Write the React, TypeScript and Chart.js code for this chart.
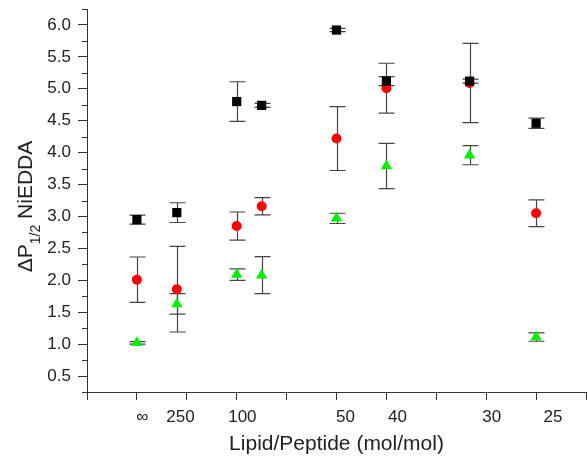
import React, { useEffect, useRef } from 'react';
import { Chart, registerables } from 'chart.js';

Chart.register(...registerables);

// Lipid/peptide ratios (x is plotted as peptide/lipid = 1/ratio)
const ratios = [Infinity, 250, 100, 80, 50, 40, 30, 25];

const blackValues = [2.95, 3.06, 4.80, 4.74, 5.92, 5.12, 5.12, 4.46];
const blackErrors = [0.07, 0.155, 0.31, 0.03, 0.025, 0.07, 0.03, 0.08];

const redValues = [2.01, 1.86, 2.85, 3.16, 4.22, 5.01, 5.09, 3.05];
const redErrors = [0.355, 0.67, 0.22, 0.135, 0.5, 0.39, 0.62, 0.21];

const greenValues = [1.02, 1.63, 2.09, 2.08, 2.97, 3.79, 3.96, 1.11];
const greenErrors = [0.02, 0.16, 0.09, 0.29, 0.08, 0.355, 0.15, 0.065];

// x tick labels and where they sit on the axis (axis units)
const xTickLabels = ['∞', '250', '100', '50', '40', '30', '25'];
const xTickLabelAt = [0.00055, 0.00436, 0.01057, 0.0209, 0.0261, 0.03556, 0.0417];
const xTickMarks = [-0.005, 0, 0.005, 0.01, 0.015, 0.02, 0.025, 0.03, 0.035, 0.04, 0.045];

const yMajorTicks = [0.5, 1.0, 1.5, 2.0, 2.5, 3.0, 3.5, 4.0, 4.5, 5.0, 5.5, 6.0];
const yMinorTicks = [0.25, 0.75, 1.25, 1.75, 2.25, 2.75, 3.25, 3.75, 4.25, 4.75, 5.25, 5.75, 6.25];

const FONT = "'Liberation Sans', Arial, sans-serif";
const AXIS_COLOR = '#333';
const TEXT_COLOR = '#222';

const toPoints = (vals: number[]) => vals.map((v, i) => ({ x: 1 / ratios[i], y: v }));

const errorBarPlugin = {
  id: 'errorBars',
  beforeDatasetsDraw(chart: any) {
    const { ctx, scales } = chart;
    const x = scales.x;
    const y = scales.y;
    ctx.save();
    ctx.strokeStyle = '#444';
    ctx.lineWidth = 1.2;
    chart.data.datasets.forEach((ds: any) => {
      ds.data.forEach((p: any, i: number) => {
        const e = ds.errors[i];
        const px = Math.round(x.getPixelForValue(p.x)) + 0.5;
        const top = y.getPixelForValue(p.y + e);
        const bot = y.getPixelForValue(p.y - e);
        ctx.beginPath();
        ctx.moveTo(px, top);
        ctx.lineTo(px, bot);
        ctx.moveTo(px - 8, top);
        ctx.lineTo(px + 8, top);
        ctx.moveTo(px - 8, bot);
        ctx.lineTo(px + 8, bot);
        ctx.stroke();
      });
    });
    ctx.restore();
  },
};

const decorPlugin = {
  id: 'decor',
  afterDraw(chart: any) {
    const { ctx, scales, chartArea } = chart;
    const y = scales.y;
    ctx.save();
    // minor y ticks
    ctx.strokeStyle = AXIS_COLOR;
    ctx.lineWidth = 1;
    yMinorTicks.forEach((v) => {
      const py = Math.round(y.getPixelForValue(v)) + 0.5;
      ctx.beginPath();
      ctx.moveTo(chartArea.left - 5, py);
      ctx.lineTo(chartArea.left, py);
      ctx.stroke();
    });
    // y title with subscript
    const main1 = 'ΔP';
    const sub = '1/2';
    const main2 = ' NiEDDA';
    const mainFont = `21px ${FONT}`;
    const subFont = `14px ${FONT}`;
    ctx.font = mainFont;
    const w1 = ctx.measureText(main1).width;
    const w3 = ctx.measureText(main2).width;
    ctx.font = subFont;
    const w2 = ctx.measureText(sub).width;
    const total = w1 + w2 + w3;
    const cy = (chartArea.top + chartArea.bottom) / 2 + 6;
    ctx.translate(32, cy);
    ctx.rotate(-Math.PI / 2);
    ctx.fillStyle = TEXT_COLOR;
    ctx.textBaseline = 'alphabetic';
    ctx.textAlign = 'left';
    let cx = -total / 2;
    ctx.font = mainFont;
    ctx.fillText(main1, cx, 0);
    cx += w1;
    ctx.font = subFont;
    ctx.fillText(sub, cx, 8);
    cx += w2;
    ctx.font = mainFont;
    ctx.fillText(main2, cx, 0);
    ctx.restore();
  },
};

export default function App() {
  const canvasRef = useRef<HTMLCanvasElement | null>(null);

  useEffect(() => {
    if (!canvasRef.current) return;
    const chart = new Chart(canvasRef.current, {
      type: 'scatter',
      data: {
        datasets: [
          {
            label: 'black',
            data: toPoints(blackValues),
            errors: blackErrors,
            pointStyle: 'rect',
            pointRadius: 6.5,
            backgroundColor: '#000000',
            borderWidth: 0,
          } as any,
          {
            label: 'red',
            data: toPoints(redValues),
            errors: redErrors,
            pointStyle: 'circle',
            pointRadius: 5,
            backgroundColor: '#ff0000',
            borderWidth: 0,
          } as any,
          {
            label: 'green',
            data: toPoints(greenValues),
            errors: greenErrors,
            pointStyle: 'triangle',
            pointRadius: 6.5,
            backgroundColor: '#00ee00',
            borderWidth: 0,
          } as any,
        ],
      },
      options: {
        animation: false,
        responsive: true,
        maintainAspectRatio: false,
        layout: { autoPadding: false, padding: { top: 9, right: 1, left: 0, bottom: 0 } },
        plugins: {
          legend: { display: false },
          tooltip: { enabled: false },
        },
        scales: {
          x: {
            type: 'linear',
            position: 'bottom',
            weight: 0,
            min: -0.005,
            max: 0.045,
            afterBuildTicks: (s: any) => {
              s.ticks = xTickMarks.map((v) => ({ value: v }));
            },
            ticks: { display: false },
            grid: {
              drawOnChartArea: false,
              drawTicks: true,
              tickLength: 8,
              color: AXIS_COLOR,
              lineWidth: 1,
            },
            border: { color: AXIS_COLOR, width: 1 },
            afterFit: (s: any) => {
              s.height = 8;
              s.paddingLeft = 0;
              s.paddingRight = 0;
            },
          },
          x2: {
            type: 'linear',
            position: 'bottom',
            weight: 1,
            min: -0.005,
            max: 0.045,
            afterBuildTicks: (s: any) => {
              s.ticks = xTickLabelAt.map((v) => ({ value: v }));
            },
            ticks: {
              autoSkip: false,
              maxRotation: 0,
              padding: 7,
              color: TEXT_COLOR,
              font: { family: FONT, size: 17 },
              callback: (_v: any, i: number) => xTickLabels[i],
            },
            grid: { display: false, drawTicks: false },
            border: { display: false },
            title: {
              display: true,
              text: 'Lipid/Peptide (mol/mol)',
              color: TEXT_COLOR,
              font: { family: FONT, size: 21 },
              padding: { top: 0, bottom: 1 },
            },
            afterFit: (s: any) => {
              s.height = 58;
              s.paddingLeft = 0;
              s.paddingRight = 0;
            },
          },
          y: {
            type: 'linear',
            min: 0.25,
            max: 6.25,
            afterBuildTicks: (s: any) => {
              s.ticks = yMajorTicks.map((v) => ({ value: v }));
            },
            ticks: {
              padding: 7,
              color: TEXT_COLOR,
              font: { family: FONT, size: 17 },
              callback: (v: any) => Number(v).toFixed(1),
            },
            grid: {
              drawOnChartArea: false,
              drawTicks: true,
              tickLength: 9,
              color: AXIS_COLOR,
              lineWidth: 1,
            },
            border: { color: AXIS_COLOR, width: 1 },
            afterFit: (s: any) => {
              s.width = 87;
              s.paddingTop = 0;
              s.paddingBottom = 0;
            },
          },
        },
      } as any,
      plugins: [errorBarPlugin, decorPlugin],
    });
    return () => chart.destroy();
  }, []);

  return (
    <div style={{ position: 'absolute', left: 0, top: 0, width: 587, height: 458, background: '#fff' }}>
      <canvas ref={canvasRef} />
    </div>
  );
}
